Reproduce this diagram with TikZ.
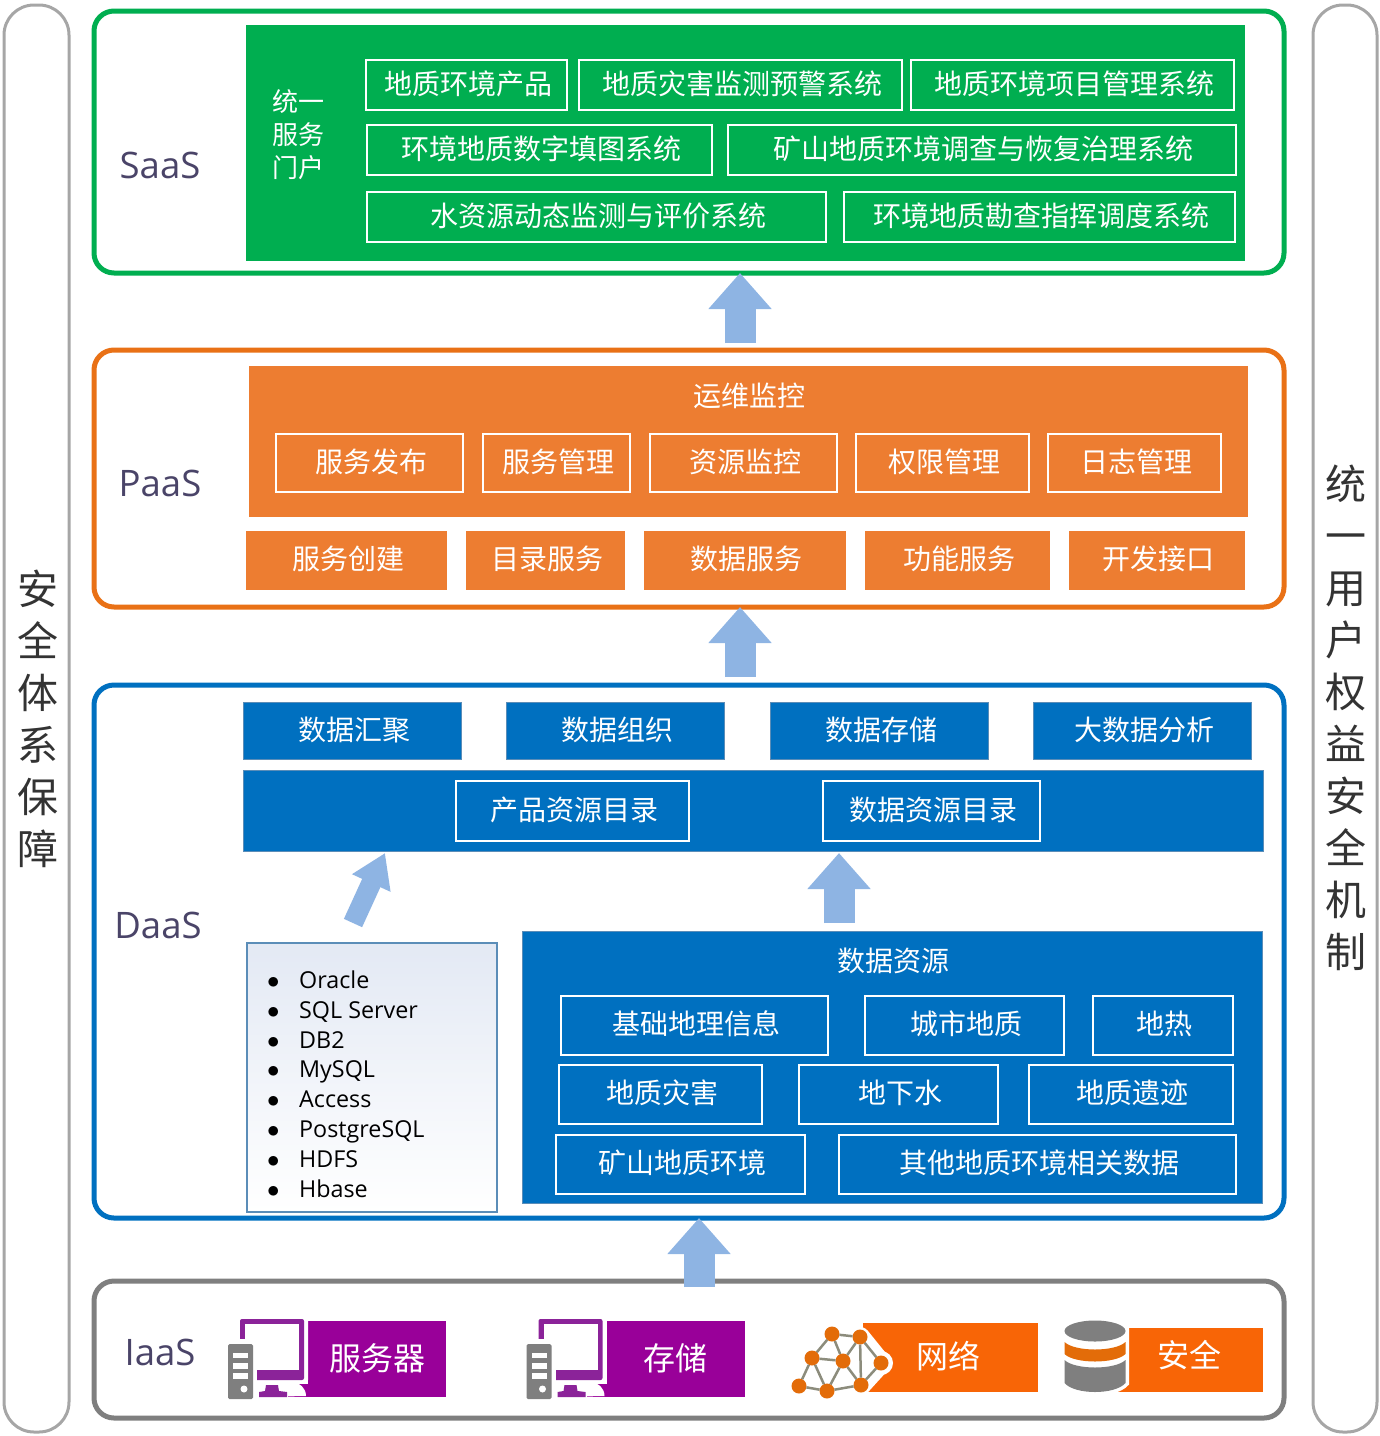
\documentclass[tikz,border=0pt]{standalone}
\usepackage{fontspec}
\setmainfont{Noto Sans CJK SC}
\newfontfamily\latinfont{Open Sans}
\usepackage{tikz}
\usetikzlibrary{arrows.meta, positioning}
\definecolor{saasgreen}{HTML}{00AE50}
\definecolor{paasorange}{HTML}{E97116}
\definecolor{paaspanel}{HTML}{ED7D31}
\definecolor{daasblue}{HTML}{0070C0}
\definecolor{iaasgray}{HTML}{7F7F7F}
\definecolor{sidegray}{HTML}{A6A6A6}
\definecolor{layertext}{HTML}{4A4468}
\definecolor{flowblue}{HTML}{8EB4E3}
\definecolor{listtop}{HTML}{E3E9F4}
\definecolor{listedge}{HTML}{5B8DB8}
\definecolor{pcpurple}{HTML}{8B2399}
\definecolor{tagpurple}{HTML}{990099}
\definecolor{tagorange}{HTML}{F86506}
\definecolor{meshorange}{HTML}{E36C09}
\definecolor{meshline}{HTML}{8C8C7C}
\newcommand{\dbitem}[1]{\makebox[32pt][l]{$\bullet$}#1}
\tikzset{
  sized/.style 2 args={minimum width=#1pt, minimum height=#2pt},
  base/.style={inner sep=0pt, outer sep=0pt, align=center, text=white, font=\fontsize{28}{33}\selectfont},
  oneline/.style={base, text height=24pt, text depth=5.8pt, execute at begin node={\kern3pt}},
  sidebar/.style={base, draw=sidegray, line width=3pt, rounded corners=30pt},
  sidetext/.style={base, text=black!80, font=\fontsize{41}{52}\selectfont},
  frame/.style={base, draw=#1, fill=white, line width=5pt, rounded corners=20pt},
  panel/.style={oneline, fill=#1},
  tagbox/.style={base, fill=#1, text height=27pt, text depth=4.6pt, font=\fontsize{32}{38}\selectfont},
  whitebox/.style={oneline, draw=white, line width=2pt},
  bluebox/.style={oneline, fill=daasblue, draw=listedge, line width=1pt},
  layer/.style={inner sep=0pt, text=layertext, font=\latinfont\fontsize{36.5}{42}\selectfont},
  flow/.style={draw=flowblue, line width=31pt, -{Triangle[width=61pt, length=36pt]}},
  thinflow/.style={draw=flowblue, line width=20pt, -{Triangle[width=40pt, length=33pt]}},
  hub/.style={circle, fill=meshorange, minimum size=15pt, inner sep=0pt, outer sep=0pt},
  meshedge/.style={draw=meshline, line width=2.5pt},
  computer/.pic={
    \fill[white, rounded corners=4pt] (10,-3) rectangle (80,65);
    \fill[pcpurple, rounded corners=2pt] (12,0) rectangle (76,61);
    \fill[white] (17,5) rectangle (71,51);
    \fill[white] (10,20) rectangle (29,65);
    \fill[tagpurple] (60,65) rectangle (80,78);
    \fill[white] (28,63) -- (64,63) arc[start angle=90, end angle=0, radius=14pt] -- (28,78) -- cycle;
    \fill[pcpurple] (38,66) -- (50,66) -- (51,72) -- (59,73) -- (59,78) -- (31,78) -- (31,73) -- (37,72) -- cycle;
    \fill[iaasgray, rounded corners=1.5pt] (0,25) rectangle (25,80);
    \fill[white] (5,34) rectangle (20,39);
    \fill[white] (5,44) rectangle (20,50);
    \fill[white] (5,54) rectangle (20,60);
    \fill[white] (16,70) circle[radius=3.5pt];
  }
}
\begin{document}
\begin{tikzpicture}[x=1pt, y=-1pt]
\useasboundingbox (0,0) rectangle (1380,1436);

\node[sidebar, sized={65}{1427}] (safety) at (36.5,718.5) {};
\node[sidebar, sized={64}{1427}] (rights) at (1345,718.5) {};
\node[sidetext] (safetytext) at (38,719) {安\\全\\体\\系\\保\\障};
\node[sidetext] (rightstext) at (1345.5,717.5) {统\\一\\用\\户\\权\\益\\安\\全\\机\\制};

\node[frame=saasgreen, sized={1190}{262}] (saas) at (689,142) {};
\node[frame=paasorange, sized={1190}{257}] (paas) at (689,478.5) {};
\node[frame=daasblue, sized={1190}{533}] (daas) at (689,951.5) {};
\node[frame=iaasgray, sized={1190}{137}] (iaas) at (689,1349.5) {};

\node[layer] (saaslabel) at (160,165) {SaaS};
\node[layer] (paaslabel) at (160,483) {PaaS};
\node[layer] (daaslabel) at (158,925) {DaaS};
\node[layer] (iaaslabel) at (160,1352) {IaaS};

\node[panel=saasgreen, sized={999}{236}] (portal) at (745.5,143) {};
\node[base, font=\fontsize{26}{33}\selectfont] (portaltitle) at (298,135) {统一\\服务\\门户};
\node[whitebox, sized={201}{50}] (s1) at (466.5,85) {地质环境产品};
\node[whitebox, sized={323}{50}] (s2) at (740.5,85) {地质灾害监测预警系统};
\node[whitebox, sized={323}{50}] (s3) at (1072.5,85) {地质环境项目管理系统};
\node[whitebox, sized={345}{50}] (s4) at (539.5,150) {环境地质数字填图系统};
\node[whitebox, sized={508}{50}] (s5) at (982,150) {矿山地质环境调查与恢复治理系统};
\node[whitebox, sized={459}{50}] (s6) at (596.5,217) {水资源动态监测与评价系统};
\node[whitebox, sized={391}{50}] (s7) at (1039.5,217) {环境地质勘查指挥调度系统};

\node[panel=paaspanel, sized={999}{151}] (ops) at (748.5,441.5) {};
\node[base] (opstitle) at (749,396) {运维监控};
\node[whitebox, sized={187}{58}] (o1) at (369.5,463) {服务发布};
\node[whitebox, sized={147}{58}] (o2) at (556.5,463) {服务管理};
\node[whitebox, sized={187}{58}] (o3) at (743.5,463) {资源监控};
\node[whitebox, sized={173}{58}] (o4) at (942.5,463) {权限管理};
\node[whitebox, sized={173}{58}] (o5) at (1134.5,463) {日志管理};
\node[panel=paaspanel, sized={201}{59}] (p1) at (346.5,560.5) {服务创建};
\node[panel=paaspanel, sized={159}{59}] (p2) at (545.5,560.5) {目录服务};
\node[panel=paaspanel, sized={202}{59}] (p3) at (745,560.5) {数据服务};
\node[panel=paaspanel, sized={185}{59}] (p4) at (957.5,560.5) {功能服务};
\node[panel=paaspanel, sized={176}{59}] (p5) at (1157,560.5) {开发接口};

\node[bluebox, sized={218}{57}] (d1) at (352.5,731) {数据汇聚};
\node[bluebox, sized={218}{57}] (d2) at (615.5,731) {数据组织};
\node[bluebox, sized={218}{57}] (d3) at (879.5,731) {数据存储};
\node[bluebox, sized={218}{57}] (d4) at (1142.5,731) {大数据分析};
\node[bluebox, sized={1019.5}{81}] (catalog) at (753.25,810.5) {};
\node[whitebox, sized={233}{60}] (c1) at (572.5,811) {产品资源目录};
\node[whitebox, sized={217}{60}] (c2) at (931.5,811) {数据资源目录};

\node[base, draw=listedge, line width=2pt, top color=listtop, bottom color=white, sized={250}{269}] (dblist) at (372,1077.5) {};
\node[inner sep=0pt, align=left, anchor=west, text=black, font=\latinfont\fontsize{23.3}{29.8}\selectfont] (dbnames) at (267,1084) {%
\dbitem{Oracle}\\
\dbitem{SQL Server}\\
\dbitem{DB2}\\
\dbitem{MySQL}\\
\dbitem{Access}\\
\dbitem{PostgreSQL}\\
\dbitem{HDFS}\\
\dbitem{Hbase}};

\node[bluebox, sized={739.5}{272}] (resource) at (892.25,1067) {};
\node[base] (resourcetitle) at (893,961) {数据资源};
\node[whitebox, sized={267}{59}] (r1) at (694.5,1025.5) {基础地理信息};
\node[whitebox, sized={199}{59}] (r2) at (964.5,1025.5) {城市地质};
\node[whitebox, sized={140}{59}] (r3) at (1163,1025.5) {地热};
\node[whitebox, sized={203}{59}] (r4) at (660.5,1094.5) {地质灾害};
\node[whitebox, sized={199}{59}] (r5) at (898.5,1094.5) {地下水};
\node[whitebox, sized={204}{59}] (r6) at (1131,1094.5) {地质遗迹};
\node[whitebox, sized={249}{59}] (r7) at (680.5,1164.5) {矿山地质环境};
\node[whitebox, sized={397}{59}] (r8) at (1037.5,1164.5) {其他地质环境相关数据};

\draw[flow] ([xshift=51pt,yshift=7pt]paas.north) -- ([xshift=51pt]saas.south);
\draw[flow] ([xshift=51pt,yshift=8pt]daas.north) -- ([xshift=51pt]paas.south);
\draw[flow] ([xshift=10pt,yshift=-6pt]iaas.north) -- ([xshift=10pt]daas.south);
\draw[thinflow] ([xshift=-19pt,yshift=20pt]dblist.north) -- ([xshift=-368.25pt,yshift=-2pt]catalog.south);
\draw[flow] ([xshift=-53.25pt,yshift=8pt]resource.north) -- ([xshift=85.75pt,yshift=-2pt]catalog.south);

\node[tagbox=tagpurple, sized={138}{76}] (server) at (377,1359) {服务器};
\node[tagbox=tagpurple, sized={138}{76}] (storage) at (675.5,1359) {存储};
\pic at (228,1319) {computer};
\pic at (526.5,1319) {computer};

\node[tagbox=tagorange, sized={175}{69}] (network) at (950.5,1357.5) {\kern-5pt网络};
\fill[white, draw=white, line width=20pt, line join=round] (860,1337) -- (881,1363) -- (861,1385) -- cycle;
\fill[white] (881,1363) circle[radius=12pt];
\node[hub] (n1) at (832,1334) {};
\node[hub] (n2) at (860,1337) {};
\node[hub] (n3) at (812,1358) {};
\node[hub] (n4) at (843,1361) {};
\node[hub] (n5) at (881,1363) {};
\node[hub] (n6) at (799,1386) {};
\node[hub] (n7) at (827,1391) {};
\node[hub] (n8) at (861,1385) {};
\draw[meshedge] (n1) -- (n2);
\draw[meshedge] (n1) -- (n3);
\draw[meshedge] (n1) -- (n4);
\draw[meshedge] (n2) -- (n4);
\draw[meshedge] (n2) -- (n8);
\draw[meshedge] (n2) -- (n5);
\draw[meshedge] (n3) -- (n4);
\draw[meshedge] (n3) -- (n6);
\draw[meshedge] (n3) -- (n7);
\draw[meshedge] (n4) -- (n7);
\draw[meshedge] (n4) -- (n8);
\draw[meshedge] (n5) -- (n8);
\draw[meshedge] (n6) -- (n7);
\draw[meshedge] (n7) -- (n8);

\node[tagbox=tagorange, sized={148}{64}] (secure) at (1189,1360) {\raisebox{4pt}{安全}};
\draw[white, fill=white, line width=7pt] (1064.5,1331) -- (1125.5,1331) -- (1125.5,1383) .. controls (1115,1395) and (1075,1395) .. (1064.5,1383) -- cycle;
\fill[white] (1095,1331) ellipse[x radius=34pt, y radius=14pt];
\fill[iaasgray] (1095,1331) ellipse[x radius=30.5pt, y radius=10.5pt];
\fill[meshorange] (1064.5,1342) .. controls (1075,1352) and (1115,1352) .. (1125.5,1342) -- (1125.5,1354) .. controls (1115,1364) and (1075,1364) .. (1064.5,1354) -- cycle;
\fill[iaasgray] (1064.5,1360) .. controls (1075,1370) and (1115,1370) .. (1125.5,1360) -- (1125.5,1383) .. controls (1115,1395) and (1075,1395) .. (1064.5,1383) -- cycle;
\end{tikzpicture}
\end{document}
